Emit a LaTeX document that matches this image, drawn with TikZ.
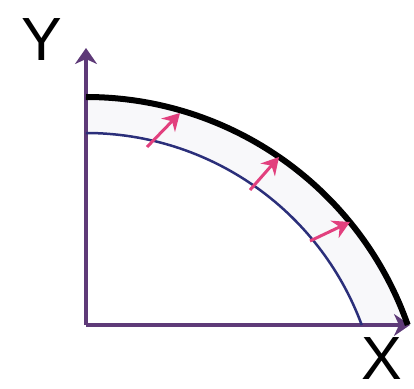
\documentclass[tikz,border=0pt]{standalone}
\usepackage{fontspec}
\setmainfont{Liberation Sans}
\definecolor{AxisPurple}{HTML}{5E3A78}
\definecolor{InnerBlue}{HTML}{2B2F7A}
\definecolor{PushPink}{HTML}{E2407E}
\definecolor{BandGray}{HTML}{F8F8FA}
\usetikzlibrary{arrows.meta,calc}

\begin{document}
\begin{tikzpicture}[x=1pt,y=1pt,
    axis/.style={draw=AxisPurple,line width=4.5pt,-{Stealth[length=16pt,width=22pt,inset=5pt]}},
    push/.style={draw=PushPink,line width=3pt,-{Stealth[length=17pt,width=19pt]}},
    letter/.style={font=\fontsize{61}{61}\selectfont,inner sep=0pt}
  ]
  \useasboundingbox (-86,-63) rectangle (328,325);
  \coordinate (O) at (0,0);
  \coordinate (yEnd) at (0,277);
  \coordinate (xEnd) at (324,0);
  \coordinate (outerTop) at (0,228);
  \coordinate (innerTop) at (0,192);
  % band between the two arcs
  \fill[BandGray] (innerTop) -- (outerTop) arc[start angle=90,end angle=19.36,radius=341]
    -- (275.7,0) arc[start angle=20.3,end angle=90,radius=294] -- cycle;
  % axes
  \draw[axis] (O) -- (yEnd);
  \draw[axis] (O) -- (xEnd);
  % arcs
  \draw[InnerBlue,line width=2.5pt] (innerTop) arc[start angle=90,end angle=20.3,radius=294];
  \draw[black,line width=6pt] (outerTop) arc[start angle=90,end angle=19.36,radius=341];
  % push arrows
  \coordinate (t1) at (61,178);  \coordinate (h1) at (94,212);
  \coordinate (t2) at (164,135); \coordinate (h2) at (193,168);
  \coordinate (t3) at (224,84);  \coordinate (h3) at (264,103);
  \foreach \i in {1,2,3}
    \draw[push] (t\i) -- (h\i);
  % labels
  \node[letter] (yLabel) at (-44,285) {Y};
  \node[letter] (xLabel) at (296,-34) {X};
\end{tikzpicture}
\end{document}
